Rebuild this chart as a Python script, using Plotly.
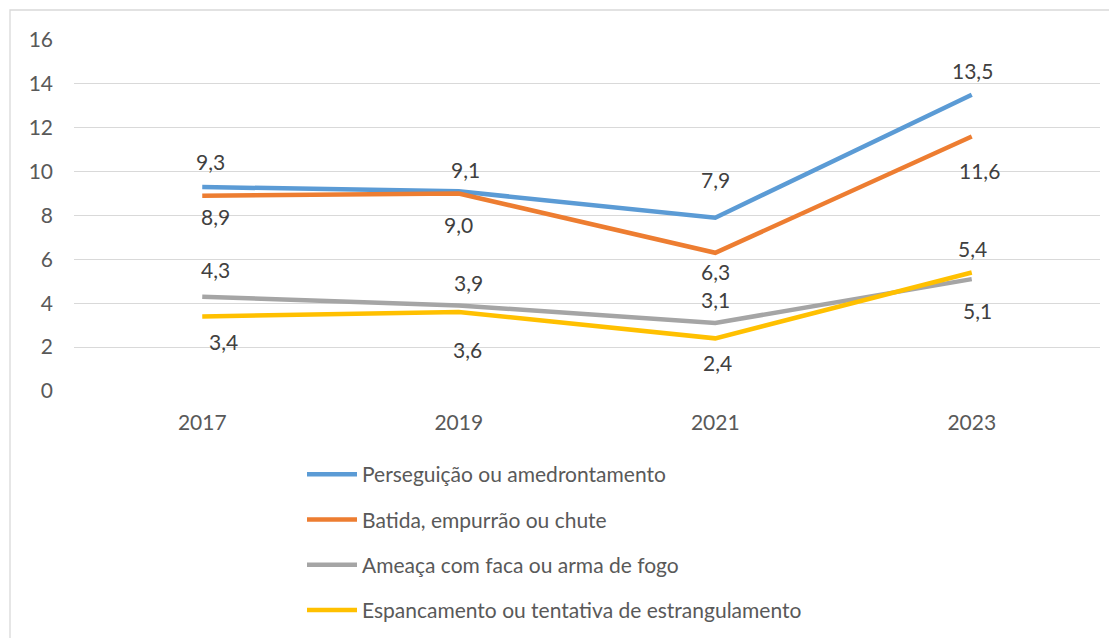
import plotly.graph_objects as go

years = ["2017", "2019", "2021", "2023"]
series_names = [
    "Perseguição ou amedrontamento",
    "Batida, empurrão ou chute",
    "Ameaça com faca ou arma de fogo",
    "Espancamento ou tentativa de estrangulamento",
]
perseguicao = [9.3, 9.1, 7.9, 13.5]
batida = [8.9, 9.0, 6.3, 11.6]
ameaca = [4.3, 3.9, 3.1, 5.1]
espancamento = [3.4, 3.6, 2.4, 5.4]
y_ticks = [0, 2, 4, 6, 8, 10, 12, 14, 16]

values = [perseguicao, batida, ameaca, espancamento]
colors = ["#5B9BD5", "#ED7D31", "#A5A5A5", "#FFC000"]
# label offsets in pixels (dx right, dy down)
label_dx = [[8, 7, 0, 1], [13, 0, 0, 8], [13, 10, 0, 6], [21, 9, 2, 1]]
label_dy = [[-25, -22, -38, -24], [21, 31, 19, 34], [-27, -23, -23, 31], [25, 37, 24, -24]]

FONT = "Lato"
FS = 21
fig = go.Figure()
for i, (name, vals, col) in enumerate(zip(series_names, values, colors)):
    fig.add_trace(go.Scatter(
        x=years, y=vals, mode="lines", name=name,
        line=dict(color=col, width=4.5),
        legendgroup=f"g{i}",
        hoverinfo="skip",
    ))

annotations = []
for i, vals in enumerate(values):
    for j, v in enumerate(vals):
        annotations.append(dict(
            x=j, y=v, xref="x", yref="y",
            text=f"{v:.1f}".replace(".", ","),
            showarrow=False,
            xshift=label_dx[i][j], yshift=-label_dy[i][j],
            font=dict(family=FONT, size=FS, color="#404040"),
        ))

OFFX, OFFY = 8, 8  # page offset of the figure (browser body margin)
W, H = 1117, 638
# plot area in page pixels: x 74..1100, y 40..391
L = 74 - OFFX
T = 40 - OFFY
R = W - (1100 - OFFX)
B = H - (391 - OFFY)
pw, ph = W - L - R, H - T - B

def px_x(p):
    return (p - OFFX - L) / pw

def px_y(p):
    return (H - B - (p - OFFY)) / ph

fig.update_layout(
    width=W, height=H,
    margin=dict(l=L, r=R, t=T, b=B, autoexpand=False),
    paper_bgcolor="white", plot_bgcolor="white",
    font=dict(family=FONT, size=FS, color="#595959"),
    xaxis=dict(
        type="category", range=[-0.5, 3.5],
        showgrid=False, showline=False, zeroline=False,
        ticks="", tickfont=dict(family=FONT, size=FS, color="#595959"),
        ticklabelstandoff=17,
    ),
    yaxis=dict(
        range=[0, 16], tickvals=y_ticks,
        showgrid=True, gridcolor="#D9D9D9", gridwidth=1.3,
        zeroline=False, showline=False, ticks="",
        tickfont=dict(family=FONT, size=FS, color="#595959"),
        ticklabelstandoff=20,
    ),
    showlegend=True,
    legend=dict(
        orientation="v", x=px_x(302), y=px_y(454), xanchor="left", yanchor="top",
        font=dict(family=FONT, size=FS, color="#595959"),
        tracegroupgap=15, itemwidth=50, bgcolor="rgba(0,0,0,0)",
    ),
    annotations=annotations,
    shapes=[dict(
        type="rect", xref="paper", yref="paper",
        x0=px_x(10), x1=px_x(1135), y0=px_y(660), y1=px_y(10),
        line=dict(color="#D9D9D9", width=1.3), fillcolor="rgba(0,0,0,0)",
        layer="below",
    )],
)

fig.write_html("out.html")
